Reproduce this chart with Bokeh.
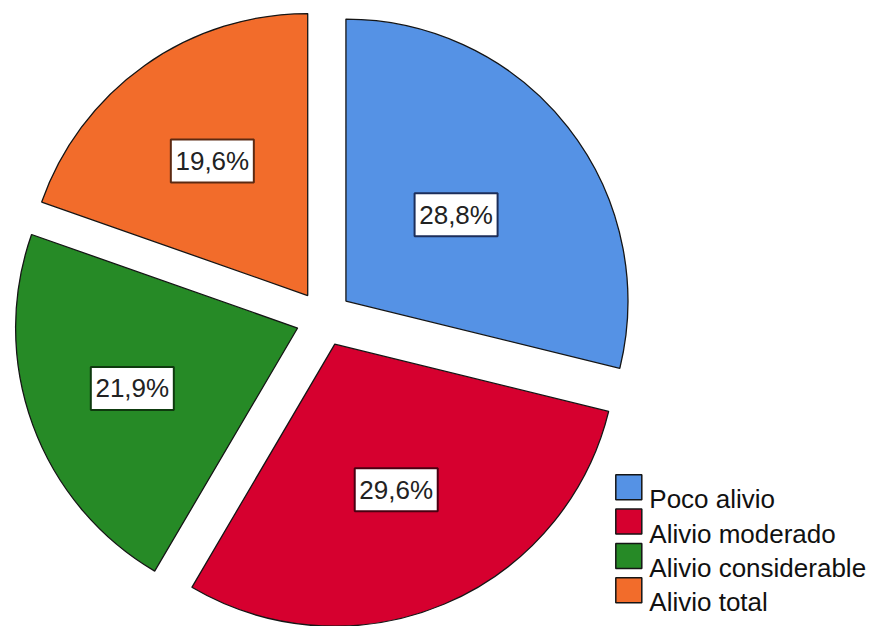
import math
from bokeh.plotting import figure
from bokeh.models import ColumnDataSource, Range1d
from bokeh.embed import file_html
from bokeh.resources import INLINE
from bokeh.core.properties import value

# ---- data ----
categories = ["Poco alivio", "Alivio moderado", "Alivio considerable", "Alivio total"]
percent = [28.8, 29.6, 21.9, 19.6]

# ---- styles / layout ----
colors = ["#5592E5", "#D6002F", "#268A26", "#F26C2B"]
box_edges = ["#1C2E5A", "#4A0012", "#0E3A0E", "#5C2A12"]
label_dist = [140, 158, 176, 165]

W, H = 872, 626
CX, CY = 323.4, 317.9      # pie centre in pixels (from top-left)
R = 282
EXPLODE = 28
FONT = "Liberation Sans"

total = sum(percent)
cx, cy, starts, ends, lx, ly, texts = [], [], [], [], [], [], []
acc = 0.0
for i, v in enumerate(percent):
    a0 = acc / total * 2 * math.pi
    acc += v
    a1 = acc / total * 2 * math.pi
    mid = (a0 + a1) / 2
    ux, uy = math.sin(mid), math.cos(mid)
    ax_, ay_ = CX + EXPLODE * ux, -CY + EXPLODE * uy
    cx.append(ax_)
    cy.append(ay_)
    starts.append(math.pi / 2 - a0)
    ends.append(math.pi / 2 - a1)
    lx.append(ax_ + label_dist[i] * ux)
    ly.append(ay_ + label_dist[i] * uy)
    texts.append(f"{v:.1f}".replace(".", ",") + "%")

src = ColumnDataSource(dict(cx=cx, cy=cy, start=starts, end=ends, color=colors,
                            lx=lx, ly=ly, text=texts, edge=box_edges, cat=categories))

p = figure(width=W, height=H, output_backend="svg", toolbar_location=None,
           x_range=Range1d(0, W), y_range=Range1d(-H, 0), min_border=0)
p.axis.visible = False
p.grid.visible = False
p.outline_line_color = None
p.background_fill_color = "white"
p.border_fill_color = "white"

p.wedge(x="cx", y="cy", radius=R, start_angle="start", end_angle="end",
        direction="clock", fill_color="color", line_color="#151515",
        line_width=1.3, source=src)

p.rect(x="lx", y="ly", width=83, height=43, fill_color="white",
       line_color="edge", line_width=2, source=src)
p.text(x="lx", y="ly", text="text", text_align="center", text_baseline="middle",
       text_font=value(FONT), text_font_size="26px", text_color="#222222", source=src)

# legend
LX, LY0, DY = 628.3, 486.8, 34.3
leg_x = [LX] * len(categories)
leg_y = [-(LY0 + DY * i) for i in range(len(categories))]
leg_tx = [LX + 20.5] * len(categories)
leg_ty = [-(LY0 + DY * i + 12) for i in range(len(categories))]
lsrc = ColumnDataSource(dict(x=leg_x, y=leg_y, tx=leg_tx, ty=leg_ty,
                             color=colors, cat=categories))
p.rect(x="x", y="y", width=26, height=25, fill_color="color",
       line_color="#151515", line_width=1.5, source=lsrc)
p.text(x="tx", y="ty", text="cat", text_align="left", text_baseline="alphabetic",
       text_font=value(FONT), text_font_size="26px", text_color="#111111", source=lsrc)

open("out.html", "w").write(file_html(p, INLINE))
